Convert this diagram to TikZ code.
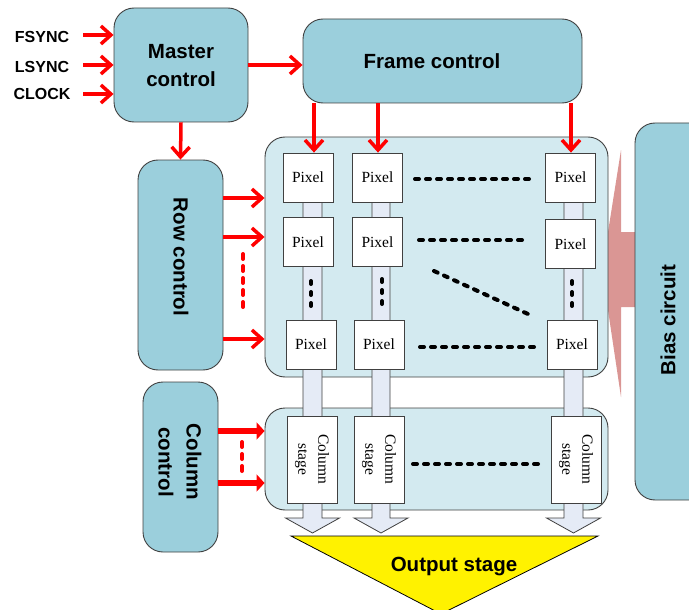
\documentclass[tikz,border=0pt]{standalone}
\usepackage{fontspec}
\setmainfont{Liberation Serif}
\newfontfamily\arialf{Liberation Sans}
\usetikzlibrary{arrows.meta}
\definecolor{ctlblue}{HTML}{9BCFDC}
\definecolor{arrblue}{HTML}{D3EAF0}
\definecolor{stripc}{HTML}{E5EBF6}
\definecolor{pinkc}{HTML}{DA9694}
\definecolor{edgec}{HTML}{404040}
\definecolor{redc}{HTML}{FF0000}
\tikzset{
  ctl/.style={draw=edgec, line width=0.9pt, fill=ctlblue, rounded corners=20pt, inner sep=0pt},
  ctltext/.style={font=\arialf\bfseries\fontsize{20.5}{28}\selectfont, align=center, inner sep=0pt},
  sigtext/.style={font=\arialf\bfseries\fontsize{16}{18}\selectfont, inner sep=0pt},
  arrbox/.style={draw=edgec, line width=0.9pt, fill=arrblue, rounded corners=20pt, inner sep=0pt},
  pixbox/.style={draw=edgec, line width=0.8pt, fill=white, minimum width=50pt, minimum height=49pt, inner sep=0pt, font=\fontsize{15.5}{18}\selectfont},
  csbox/.style={draw=edgec, line width=0.8pt, fill=white, minimum width=50pt, minimum height=87pt, inner sep=0pt},
  cstext/.style={rotate=-90, align=center, inner sep=0pt, font=\fontsize{15.5}{20}\selectfont},
  strip/.style={draw=edgec, line width=0.8pt, fill=stripc},
  redarr/.style={draw=redc, line width=3.5pt, -{Straight Barb[length=10pt,width=18pt]}},
  thickarr/.style={draw=redc, line width=6pt, -{Triangle[length=8pt,width=17pt]}},
  reddots/.style={draw=redc, line width=4pt, line cap=round, dash pattern=on 5pt off 7pt},
  blkdash/.style={draw=black, line width=4pt, line cap=round, dash pattern=on 4pt off 7pt},
}
\begin{document}
\begin{tikzpicture}[x=1pt,y=-1pt]
\useasboundingbox (0,0) rectangle (689,610);

% bias arrow (behind array)
\fill[pinkc] (640,232) -- (621,232) -- (621,150) -- (602,270) -- (621,397) -- (621,307) -- (640,307) -- cycle;

% containers
\node[arrbox, minimum width=343pt, minimum height=240pt] (array) at (436.5,257) {};
\node[arrbox, minimum width=343pt, minimum height=102pt] (colbox) at (436.5,459) {};

% control blocks
\node[ctl, minimum width=134pt, minimum height=114pt] (master) at (181,65) {};
\node[ctltext] (mastert) at (181,66) {Master\\control};
\node[ctl, minimum width=279pt, minimum height=84pt] (frame) at (442.5,61) {};
\node[ctltext] (framet) at (432,61) {Frame control};
\node[ctl, minimum width=85pt, minimum height=210pt] (rowc) at (180.5,265) {};
\node[ctltext, rotate=-90] (rowt) at (181,257) {Row control};
\node[ctl, minimum width=75pt, minimum height=170pt] (colc) at (180.5,467) {};
\node[ctltext, rotate=-90] (colct) at (180,462) {Column\\control};
\node[ctl, minimum width=75pt, minimum height=377pt] (bias) at (672.5,311.5) {};
\node[ctltext, rotate=90] (biast) at (668,320) {Bias circuit};

% strips with output arrows
\draw[strip] (303,190) -- (303,518) -- (285.5,518) -- (312.5,533) -- (339.5,518) -- (322,518) -- (322,190) -- cycle;
\draw[strip] (372,190) -- (372,518) -- (354,518) -- (381,533) -- (408,518) -- (390,518) -- (390,190) -- cycle;
\draw[strip] (564,190) -- (564,518) -- (546.5,518) -- (573.5,533) -- (600.5,518) -- (583,518) -- (583,190) -- cycle;

% pixels
\node[pixbox] (p11) at (308,177.5) {Pixel};
\node[pixbox] (p12) at (377.5,177.5) {Pixel};
\node[pixbox] (p13) at (570.5,177.5) {Pixel};
\node[pixbox] (p21) at (308,242) {Pixel};
\node[pixbox] (p22) at (377.5,242) {Pixel};
\node[pixbox] (p23) at (570.5,244) {Pixel};
\node[pixbox] (p31) at (311,344.5) {Pixel};
\node[pixbox] (p32) at (379,344.5) {Pixel};
\node[pixbox] (p33) at (572,344.5) {Pixel};

% column stages
\node[csbox] (cs1) at (312,459.5) {};
\node[cstext] (cs1t) at (312,459.5) {Column\\stage};
\node[csbox] (cs2) at (379,459.5) {};
\node[cstext] (cs2t) at (379,459.5) {Column\\stage};
\node[csbox] (cs3) at (576,459.5) {};
\node[cstext] (cs3t) at (576,459.5) {Column\\stage};

% output stage
\fill[yellow, draw=black, line width=0.8pt] (291,536) -- (598,536) -- (441,614) -- cycle;
\node[font=\arialf\bfseries\fontsize{20.5}{24}\selectfont, inner sep=0pt] (outt) at (454,567) {Output stage};

% signal labels
\node[sigtext] (fsync) at (42,37) {FSYNC};
\node[sigtext] (lsync) at (42,67) {LSYNC};
\node[sigtext] (clock) at (42,94) {CLOCK};
\draw[redarr] (83,35) -- (master.west |- 0,35);
\draw[redarr] (83,65) -- (master.west |- 0,65);
\draw[redarr] (83,94) -- (master.west |- 0,94);

% control arrows
\draw[redarr] (master.east |- 0,65) -- (frame.west |- 0,65);
\draw[redarr] (master.south) -- (rowc.north);
\draw[redarr] (frame.south -| 314,0) -- (p11.north -| 314,0);
\draw[redarr] (frame.south -| 378,0) -- (p12.north -| 378,0);
\draw[redarr] (frame.south -| 571,0) -- (p13.north -| 571,0);

\draw[redarr] (rowc.east |- 0,198) -- (array.west |- 0,198);
\draw[redarr] (rowc.east |- 0,237) -- (array.west |- 0,237);
\draw[redarr] (rowc.east |- 0,339) -- (array.west |- 0,339);
\coordinate (rd1) at (243,254);
\coordinate (rd2) at (243,308);
\draw[reddots] (rd1) -- (rd2);

\draw[thickarr] (colc.east |- 0,431) -- (colbox.west |- 0,431);
\draw[thickarr] (colc.east |- 0,483) -- (colbox.west |- 0,483);
\coordinate (cd1) at (242,442);
\coordinate (cd2) at (242,472);
\draw[reddots] (cd1) -- (cd2);

% black dashed ellipses
\coordinate (d1a) at (415,179); \coordinate (d1b) at (532,179);
\coordinate (d2a) at (419,240); \coordinate (d2b) at (525,240);
\coordinate (d3a) at (420,347); \coordinate (d3b) at (537,347);
\coordinate (dga) at (434,271); \coordinate (dgb) at (528,314);
\coordinate (dca) at (413,464); \coordinate (dcb) at (543,464);
\draw[blkdash] (d1a) -- (d1b);
\draw[blkdash] (d2a) -- (d2b);
\draw[blkdash] (d3a) -- (d3b);
\draw[blkdash] (dga) -- (dgb);
\draw[blkdash] (dca) -- (dcb);
\coordinate (v1a) at (311,281); \coordinate (v1b) at (311,309);
\coordinate (v2a) at (382,279); \coordinate (v2b) at (382,309);
\coordinate (v3a) at (572,281); \coordinate (v3b) at (572,309);
\draw[blkdash, dash pattern=on 3pt off 8pt] (v1a) -- (v1b);
\draw[blkdash, dash pattern=on 3pt off 8pt] (v2a) -- (v2b);
\draw[blkdash, dash pattern=on 3pt off 8pt] (v3a) -- (v3b);
\end{tikzpicture}
\end{document}
